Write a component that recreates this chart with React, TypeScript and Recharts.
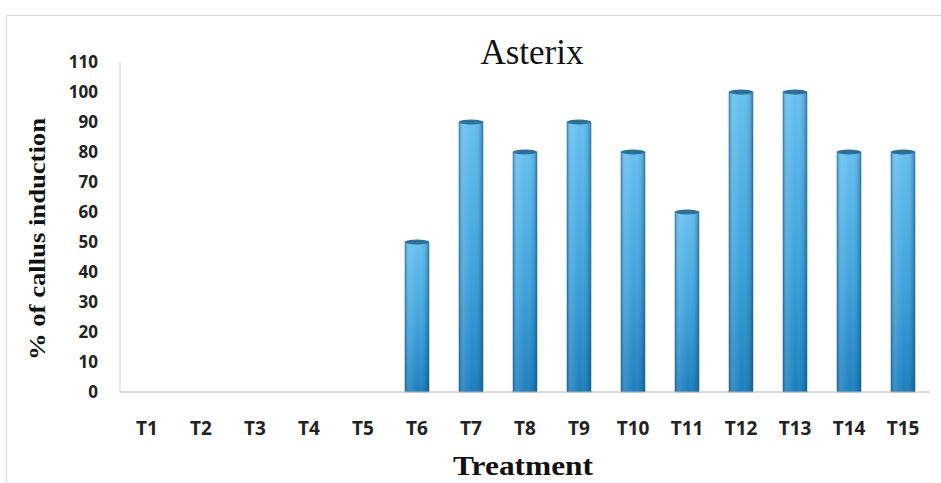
import React from 'react';
import { BarChart, Bar, XAxis, YAxis, Label } from 'recharts';

const treatments = ['T1', 'T2', 'T3', 'T4', 'T5', 'T6', 'T7', 'T8', 'T9', 'T10', 'T11', 'T12', 'T13', 'T14', 'T15'];
const callusInduction = [0, 0, 0, 0, 0, 50, 90, 80, 90, 80, 60, 100, 100, 80, 80];
const yTicks = [0, 10, 20, 30, 40, 50, 60, 70, 80, 90, 100, 110];

const data = treatments.map((name, i) => ({ name, value: callusInduction[i] }));

const serif = '"Liberation Serif", "Times New Roman", serif';
const sans = '"Open Sans", sans-serif';

// cylinder-ish bar: vertical blue gradient, shaded edges, dark cap on top
const CylinderBar = (props: any) => {
  const { x, y, width, height } = props;
  if (!height || height <= 0) return null;
  return (
    <g>
      <rect x={x} y={y} width={width} height={height} fill="url(#barFill)" />
      <rect x={x} y={y} width={width} height={height} fill="url(#barShade)" />
      <rect x={x} y={y} width={width} height={height} fill="none" stroke="#1a5f8c" strokeOpacity={0.5} strokeWidth={1} />
      <ellipse cx={x + width / 2} cy={y} rx={width / 2} ry={2.5} fill="#2d6f96" />
    </g>
  );
};

const XTitle = (props: any) => {
  const { x, y, width } = props.viewBox;
  return (
    <text
      x={x + width / 2 - 2}
      y={y + 83}
      textAnchor="middle"
      textLength={140}
      lengthAdjust="spacingAndGlyphs"
      fill="#111"
      fontSize={27}
      fontWeight={700}
      fontFamily={serif}
    >
      Treatment
    </text>
  );
};

const YTitle = () => (
  <text
    transform="translate(45,239) rotate(-90)"
    textAnchor="middle"
    textLength={242}
    lengthAdjust="spacingAndGlyphs"
    fill="#111"
    fontSize={23}
    fontWeight={700}
    fontFamily={serif}
  >
    % of callus induction
  </text>
);

const App = () => {
  return (
    <div style={{ width: 941, height: 483, position: 'relative', background: '#fff' }}>
      <style>{'body{margin:0}'}</style>
      <div
        style={{
          position: 'absolute',
          left: 6,
          top: 15,
          width: 940,
          height: 470,
          borderLeft: '1px solid #d8d8d8',
          borderTop: '1px solid #d8d8d8',
        }}
      />
      <div
        style={{
          position: 'absolute',
          left: 0,
          top: 33,
          width: 941,
          textAlign: 'center',
          paddingLeft: 123,
          boxSizing: 'border-box',
          fontFamily: serif,
          fontSize: 35,
          lineHeight: '40px',
          color: '#111',
        }}
      >
        Asterix
      </div>
      <BarChart
        width={941}
        height={483}
        data={data}
        margin={{ top: 62, right: 11, bottom: 0, left: 0 }}
        barCategoryGap="0%"
      >
        <defs>
          <linearGradient id="barFill" x1="0" y1="0" x2="0" y2="1">
            <stop offset="0%" stopColor="#66c0f0" />
            <stop offset="55%" stopColor="#3ea3dc" />
            <stop offset="100%" stopColor="#1c7fbd" />
          </linearGradient>
          <linearGradient id="barShade" x1="0" y1="0" x2="1" y2="0">
            <stop offset="0%" stopColor="#0b3c5c" stopOpacity={0.35} />
            <stop offset="18%" stopColor="#ffffff" stopOpacity={0.12} />
            <stop offset="55%" stopColor="#ffffff" stopOpacity={0} />
            <stop offset="85%" stopColor="#0b3c5c" stopOpacity={0.12} />
            <stop offset="100%" stopColor="#0b3c5c" stopOpacity={0.45} />
          </linearGradient>
        </defs>
        <XAxis
          dataKey="name"
          height={91}
          axisLine={{ stroke: '#b8b8b8' }}
          tickLine={false}
          tick={{ fill: '#222', fontSize: 19, fontWeight: 700, fontFamily: sans }}
          tickMargin={24}
          interval={0}
        >
          <Label content={<XTitle />} />
        </XAxis>
        <YAxis
          width={120}
          domain={[0, 110]}
          ticks={yTicks}
          interval={0}
          axisLine={{ stroke: '#d0d0d0' }}
          tickLine={false}
          tickMargin={16}
          tick={{ fill: '#222', fontSize: 17, fontWeight: 700, fontFamily: sans }}
        >
          <Label content={<YTitle />} />
        </YAxis>
        <Bar dataKey="value" barSize={24} shape={<CylinderBar />} isAnimationActive={false} />
      </BarChart>
    </div>
  );
};

export default App;
